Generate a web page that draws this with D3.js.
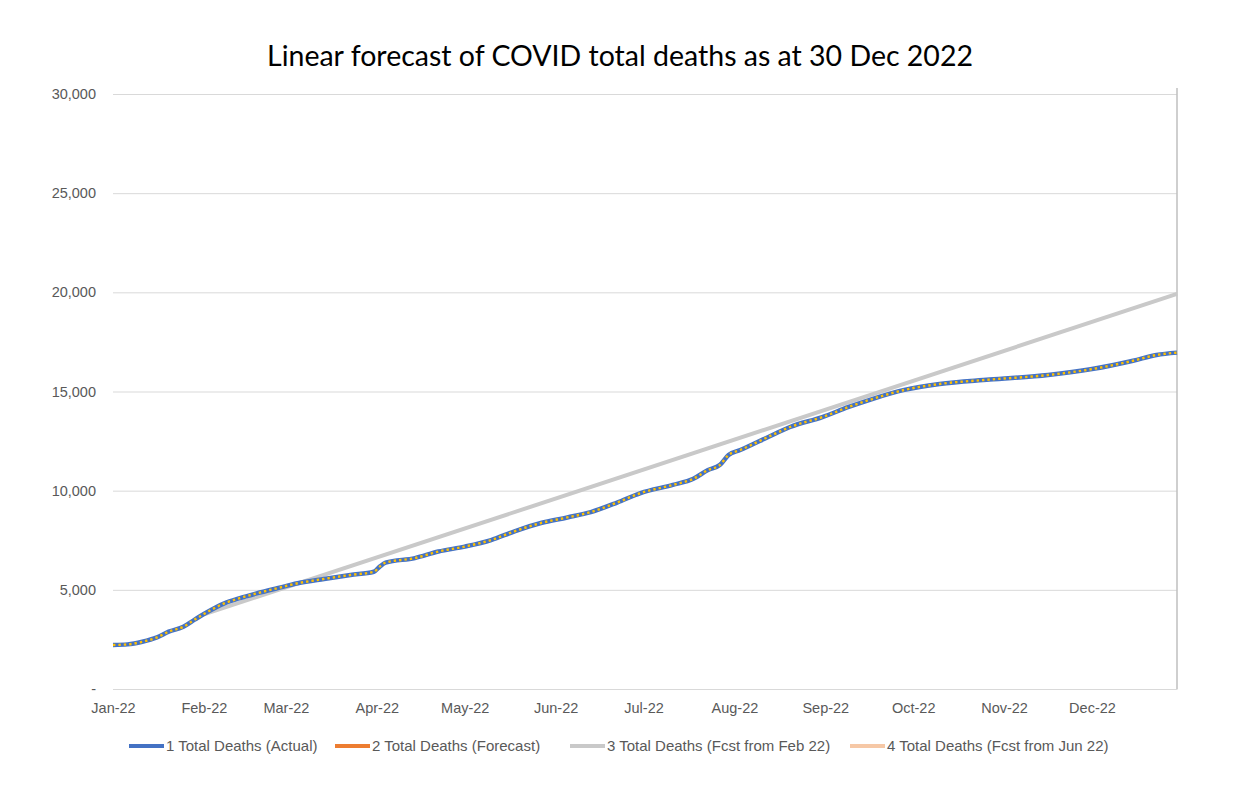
<!DOCTYPE html>
<html>
<head>
<meta charset="utf-8">
<script src="https://cdn.jsdelivr.net/npm/d3@7"></script>
<style>
  body { margin: 0; background: #fff; }
  svg { display: block; }
</style>
</head>
<body>
<div id="chart"></div>
<script>
//Series colours, as Excel draws them
const blue = "#4472c4",
  orange = "#ed7d31",
  grey = "#c9c9c9",
  peach = "#f6c8a6",
  gold = "#ffc000";

//Actual total deaths
const actualDates = [
  "2022-01-01", "2022-01-06", "2022-01-11", "2022-01-16", "2022-01-20",
  "2022-01-25", "2022-01-29", "2022-02-01", "2022-02-08", "2022-02-13",
  "2022-02-19", "2022-02-26", "2022-03-05", "2022-03-14", "2022-03-23",
  "2022-03-31", "2022-04-02", "2022-04-04", "2022-04-14", "2022-04-22",
  "2022-05-01", "2022-05-10", "2022-05-18", "2022-05-27", "2022-06-05",
  "2022-06-13", "2022-06-22", "2022-06-30", "2022-07-11", "2022-07-18",
  "2022-07-23", "2022-07-27", "2022-07-30", "2022-08-03", "2022-08-14",
  "2022-08-20", "2022-08-31", "2022-09-09", "2022-09-17", "2022-09-28",
  "2022-10-10", "2022-10-27", "2022-11-16", "2022-12-01", "2022-12-15",
  "2022-12-23", "2022-12-30"
];
const actualDeaths = [
  2220, 2250, 2380, 2600, 2890,
  3140, 3510, 3780, 4320, 4570,
  4820, 5080, 5330, 5550, 5750,
  5910, 6170, 6370, 6600, 6930,
  7180, 7510, 7950, 8370, 8650,
  8920, 9400, 9880, 10290, 10600,
  11040, 11290, 11800, 12050, 12810,
  13210, 13710, 14220, 14620, 15080,
  15380, 15600, 15830, 16130, 16550,
  16840, 16960
];

//Linear forecast from Feb 22 (straight line, two ends)
const fcstFebDates = ["2022-02-01", "2022-12-30"];
const fcstFebDeaths = [3760, 19920];

const yTicks = [0, 5000, 10000, 15000, 20000, 25000, 30000];
const monthTicks = ["2022-01-01", "2022-02-01", "2022-03-01", "2022-04-01",
  "2022-05-01", "2022-06-01", "2022-07-01", "2022-08-01", "2022-09-01",
  "2022-10-01", "2022-11-01", "2022-12-01"];

const legendNames = [
  "1 Total Deaths (Actual)",
  "2 Total Deaths (Forecast)",
  "3 Total Deaths (Fcst from Feb 22)",
  "4 Total Deaths (Fcst from Jun 22)"
];
const legendColors = [blue, orange, grey, peach];

const w = 1242;
const h = 794;
const plotLeft = 113, plotRight = 1177, plotTop = 94, plotBottom = 689;
const axisFont = "'Liberation Sans Narrow', 'Liberation Sans', Arial, sans-serif";

const parse = d3.utcParse("%Y-%m-%d");
const actual = actualDates.map((d, i) => ({ date: parse(d), value: actualDeaths[i] }));
const fcstFeb = fcstFebDates.map((d, i) => ({ date: parse(d), value: fcstFebDeaths[i] }));

const xScale = d3.scaleUtc([parse("2022-01-01"), parse("2022-12-30")], [plotLeft, plotRight]);
const yScale = d3.scaleLinear([0, 30000], [plotBottom, plotTop]);

const svg = d3
  .select("#chart")
  .append("svg")
  .attr("width", w)
  .attr("height", h);

svg
  .append("text")
  .attr("x", 620)
  .attr("y", 66)
  .attr("text-anchor", "middle")
  .style("font-family", "Lato, 'Open Sans', sans-serif")
  .style("font-size", "28.5px")
  .style("fill", "#000")
  .text("Linear forecast of COVID total deaths as at 30 Dec 2022");

//gridlines and y labels
const yAxis = d3
  .axisLeft(yScale)
  .tickValues(yTicks)
  .tickSize(-(plotRight - plotLeft))
  .tickPadding(17)
  .tickFormat((v) => (v === 0 ? "-" : d3.format(",")(v)));

const gy = svg
  .append("g")
  .attr("transform", `translate(${plotLeft},0)`)
  .call(yAxis);
gy.select(".domain").remove();
gy.selectAll(".tick line").attr("stroke", "#d9d9d9").attr("stroke-width", 1);
gy.selectAll(".tick text")
  .style("font-family", axisFont)
  .style("font-size", "14.5px")
  .style("fill", "#595959");

const xAxis = d3
  .axisBottom(xScale)
  .tickValues(monthTicks.map(parse))
  .tickSize(0)
  .tickPadding(14)
  .tickFormat(d3.utcFormat("%b-%y"));

const gx = svg
  .append("g")
  .attr("transform", `translate(0,${plotBottom})`)
  .call(xAxis);
gx.select(".domain").attr("stroke", "#d9d9d9");
gx.selectAll(".tick text")
  .style("font-family", axisFont)
  .style("font-size", "14.5px")
  .style("fill", "#595959");

//right hand marker line at 30 Dec
svg
  .append("line")
  .attr("x1", xScale(parse("2022-12-30")))
  .attr("x2", xScale(parse("2022-12-30")))
  .attr("y1", plotTop - 6)
  .attr("y2", plotBottom)
  .attr("stroke", "#bfbfbf")
  .attr("stroke-width", 1.5);

const line = d3
  .line()
  .x((d) => xScale(d.date))
  .y((d) => yScale(d.value))
  .curve(d3.curveMonotoneX);

svg
  .append("path")
  .datum(fcstFeb)
  .attr("d", line)
  .attr("fill", "none")
  .attr("stroke", grey)
  .attr("stroke-width", 4);

svg
  .append("path")
  .datum(actual)
  .attr("d", line)
  .attr("fill", "none")
  .attr("stroke", blue)
  .attr("stroke-width", 4.5)
  .attr("stroke-linejoin", "round");

//dotted gold overlay on the actual series
svg
  .append("path")
  .datum(actual)
  .attr("d", line)
  .attr("fill", "none")
  .attr("stroke", gold)
  .attr("stroke-width", 2.4)
  .attr("stroke-dasharray", "2.4,3");

//legend
const legendX = [129, 335, 570, 850];
const legend = svg
  .selectAll(".legend")
  .data(legendNames)
  .enter()
  .append("g")
  .attr("class", "legend")
  .attr("transform", (d, i) => `translate(${legendX[i]},746)`);

legend
  .append("line")
  .attr("x1", 0)
  .attr("x2", 35)
  .attr("stroke", (d, i) => legendColors[i])
  .attr("stroke-width", 4);

legend
  .append("text")
  .attr("x", 37)
  .attr("dy", "0.35em")
  .style("font-family", axisFont)
  .style("font-size", "15px")
  .style("fill", "#595959")
  .text((d) => d);
</script>
</body>
</html>
